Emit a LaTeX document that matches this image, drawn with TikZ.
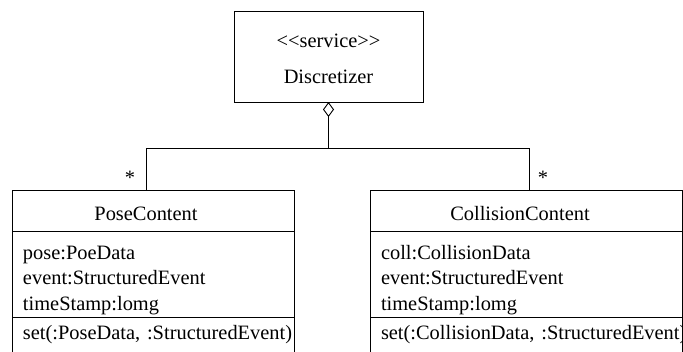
\documentclass[tikz,border=0pt]{standalone}
\usepackage{fontspec}
\setmainfont{Liberation Serif}
\usetikzlibrary{arrows.meta, positioning}

\tikzset{
  classhead/.style={draw, line width=0.9pt, outer sep=0pt, anchor=north west, minimum height=41pt, inner sep=0pt, text height=30.5pt, text depth=10.5pt},
  classattr/.style={draw, line width=0.9pt, outer sep=0pt, anchor=north west, inner xsep=11pt, inner ysep=0pt, align=left},
  classops/.style={draw, line width=0.9pt, outer sep=0pt, anchor=north west, inner xsep=11pt, inner ysep=0pt, align=left, text height=22pt, text depth=30pt},
  mult/.style={inner sep=0pt},
  aggr/.style={line width=0.9pt, {Diamond[open, length=15pt, width=11pt]}-},
  link/.style={line width=0.9pt},
}

\begin{document}
\begin{tikzpicture}[x=1pt, y=-1pt, font=\fontsize{20.4}{25.5}\selectfont]
  \useasboundingbox (0,0) rectangle (683,351);
  \clip (0,0) rectangle (683,351);

  % service
  \node[draw, line width=0.9pt, outer sep=0pt, anchor=north, minimum width=189pt, inner sep=0pt, align=center] (disc) at (328.5,11)
    {\rule{0pt}{36pt}{<}{<}service{>}{>}\\[10.5pt]Discretizer\rule[-19pt]{0pt}{19pt}};

  % PoseContent class
  \node[classhead, minimum width=282pt] (pose) at (12,190) {PoseContent\hspace*{14pt}};
  \node[classattr, text width=260pt] (poseattr) at (pose.south west)
    {\rule{0pt}{28pt}pose:PoeData\\event:StructuredEvent\\timeStamp:lomg\rule[-7pt]{0pt}{7pt}};
  \node[classops, text width=260pt] (poseops) at (poseattr.south west) {\mbox{set(:PoseData, :StructuredEvent)}};

  % CollisionContent class
  \node[classhead, minimum width=312pt] (coll) at (370,190) {CollisionContent\hspace*{12pt}};
  \node[classattr, text width=290pt] (collattr) at (coll.south west)
    {\rule{0pt}{28pt}coll:CollisionData\\event:StructuredEvent\\timeStamp:lomg\rule[-7pt]{0pt}{7pt}};
  \node[classops, text width=290pt] (collops) at (collattr.south west) {\mbox{set(:CollisionData, :StructuredEvent)}};

  % multiplicities
  \node[mult] (posemult) at (130,178) {*};
  \node[mult] (collmult) at (543,178) {*};

  % aggregation
  \coordinate (hub) at (328.5,148);
  \draw[aggr] (disc.south) -- (hub);
  \draw[link] (hub) -| ([xshift=-7pt]pose.north);
  \draw[link] (hub) -| ([xshift=3pt]coll.north);
\end{tikzpicture}
\end{document}
